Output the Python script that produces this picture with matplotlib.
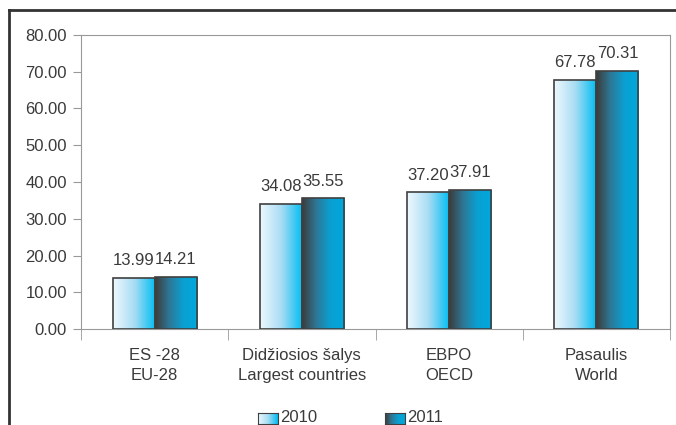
import numpy as np
import matplotlib
matplotlib.use('Agg')
import matplotlib.pyplot as plt
from matplotlib.colors import LinearSegmentedColormap
from matplotlib.lines import Line2D

plt.rcParams['font.family'] = ['Liberation Sans', 'DejaVu Sans']

categories = ['ES -28\nEU-28', 'Didžiosios šalys\nLargest countries', 'EBPO\nOECD', 'Pasaulis\nWorld']
years = ['2010', '2011']
vals_2010 = [13.99, 34.08, 37.20, 67.78]
vals_2011 = [14.21, 35.55, 37.91, 70.31]

txt = '#3a3a3a'
cmap10 = LinearSegmentedColormap.from_list('c10', ['#eef8fd', '#a8dcf4', '#00bdf2'])
cmap11 = LinearSegmentedColormap.from_list('c11', ['#3c3c3c', '#2e7896', '#0aa0d2', '#00a8dc'])
grad = np.linspace(0, 1, 64).reshape(1, -1)

fig = plt.figure(figsize=(6.76, 4.25), dpi=100)
ax = fig.add_axes([81/676, 1-329/425, 589/676, 294/425])

x = np.arange(len(categories))
w = 0.286

def grad_bars(xs, vals, cmap):
    bars = ax.bar(xs, vals, w, color='none', edgecolor='#404040', linewidth=1.2, zorder=3)
    for b in bars:
        x0, y0 = b.get_x(), b.get_y()
        im = ax.imshow(grad, cmap=cmap, aspect='auto', zorder=2,
                       extent=[x0, x0 + b.get_width(), y0, y0 + b.get_height()])
        im.set_clip_path(b)
    return bars

b1 = grad_bars(x - w/2, vals_2010, cmap10)
b2 = grad_bars(x + w/2, vals_2011, cmap11)

for bars, vals in [(b1, vals_2010), (b2, vals_2011)]:
    for b, v in zip(bars, vals):
        ax.text(b.get_x() + b.get_width()/2, v + 2.6, '%.2f' % v,
                ha='center', va='bottom', fontsize=12, color=txt)

ax.set_xlim(-0.5, len(categories) - 0.5)
ax.set_ylim(0, 80)
ax.set_yticks(np.arange(0, 81, 10))
ax.set_yticklabels(['%.2f' % t for t in np.arange(0, 81, 10)], fontsize=12, color=txt)
ax.set_xticks(x)
ax.set_xticklabels(categories, fontsize=12, color=txt, linespacing=1.35)
ax.tick_params(axis='x', length=0, pad=14)
ax.set_xticks(np.arange(-0.5, len(categories)), minor=True)
ax.tick_params(axis='x', which='minor', length=8, color='#999999')
ax.tick_params(axis='y', length=6, color='#999999', pad=4)
for s in ax.spines.values():
    s.set_color('#999999')

# outer frame
fig.add_artist(Line2D([9/676, 9/676], [0, 1-10/425], color='#333333', lw=2))
fig.add_artist(Line2D([9/676, 1], [1-10/425, 1-10/425], color='#333333', lw=2))

# legend
for i, (yr, cm) in enumerate(zip(years, [cmap10, cmap11])):
    lx = 258 + i*127
    lax = fig.add_axes([lx/676, 1-424/425, 20/676, 11/425])
    lax.imshow(grad, cmap=cm, aspect='auto')
    lax.set_xticks([]); lax.set_yticks([])
    for s in lax.spines.values():
        s.set_color('#404040')
    fig.text((lx + 22)/676, 1-418/425, yr, fontsize=12, color=txt, va='center')

fig.savefig('out.png', dpi=100)
